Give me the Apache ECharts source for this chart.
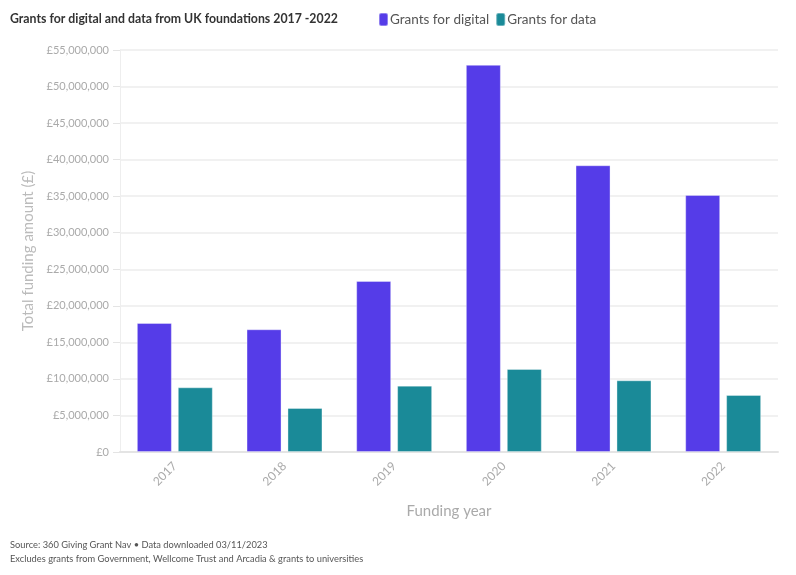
<!DOCTYPE html>
<html>
<head>
<meta charset="utf-8">
<script src="https://cdn.jsdelivr.net/npm/echarts@6/dist/echarts.min.js"></script>
<style>html,body{margin:0;padding:0;background:#fff}#c{width:796px;height:575px}</style>
</head>
<body>
<div id="c"></div>
<script>
const years = ['2017', '2018', '2019', '2020', '2021', '2022'];
const digital = [17650000, 16790000, 23400000, 52970000, 39230000, 35170000];
const data = [8850000, 6020000, 9080000, 11360000, 9810000, 7800000];
const yMax = 55000000;
const yStep = 5000000;

const FONT = 'Lato';
const chart = echarts.init(document.getElementById('c'));
chart.setOption({
  backgroundColor: '#fff',
  animation: false,
  textStyle: { fontFamily: FONT },
  title: [
    { text: 'Grants for digital and data from UK foundations 2017 -2022', left: 10, top: 13, padding: 0,
      textStyle: { fontSize: 12.3, fontWeight: 'bold', color: '#333', fontFamily: FONT } },
    { text: 'Source: 360 Giving Grant Nav • Data downloaded 03/11/2023', left: 10, top: 540, padding: 0,
      textStyle: { fontSize: 9.3, fontWeight: 'normal', color: '#555', fontFamily: FONT } },
    { text: 'Excludes grants from Government, Wellcome Trust and Arcadia & grants to universities', left: 10, top: 554, padding: 0,
      textStyle: { fontSize: 9.3, fontWeight: 'normal', color: '#555', fontFamily: FONT } }
  ],
  legend: {
    left: 378, top: 12, padding: 0, itemWidth: 9, itemHeight: 13, itemGap: 6,
    icon: 'roundRect',
    textStyle: { fontSize: 13.5, color: '#555', padding: [0, 0, 0, -3], fontFamily: FONT },
    data: ['Grants for digital', 'Grants for data']
  },
  grid: { left: 120, right: 18, top: 50, bottom: 123 },
  xAxis: {
    type: 'category', data: years,
    name: 'Funding year', nameLocation: 'middle', nameGap: 52,
    nameTextStyle: { fontSize: 15, color: '#aaa' },
    axisLine: { lineStyle: { color: '#e4e4e4', width: 2 } },
    axisTick: { alignWithLabel: true, length: 5, lineStyle: { color: '#e4e4e4' } },
    axisLabel: { rotate: 45, color: '#aaa', fontSize: 12, margin: 12 }
  },
  yAxis: {
    type: 'value', min: 0, max: yMax, interval: yStep,
    name: 'Total funding amount (£)', nameLocation: 'middle', nameGap: 84,
    nameTextStyle: { fontSize: 15, color: '#bbb' },
    axisLine: { show: true, lineStyle: { color: '#eee' } },
    axisTick: { show: true, length: 7, lineStyle: { color: '#e4e4e4' } },
    splitLine: { lineStyle: { color: '#ececec', width: 1.5 } },
    axisLabel: { color: '#aaa', fontSize: 11, margin: 11,
      formatter: v => '£' + v.toLocaleString('en-GB') }
  },
  series: [
    { name: 'Grants for digital', type: 'bar', data: digital, barWidth: 35, barGap: '17%',
      itemStyle: { color: '#553ce8', borderColor: 'rgba(255,255,255,0.35)', borderWidth: 1 } },
    { name: 'Grants for data', type: 'bar', data: data, barWidth: 35,
      itemStyle: { color: '#1a8a98', borderColor: 'rgba(255,255,255,0.35)', borderWidth: 1 } }
  ]
});
</script>
</body>
</html>
